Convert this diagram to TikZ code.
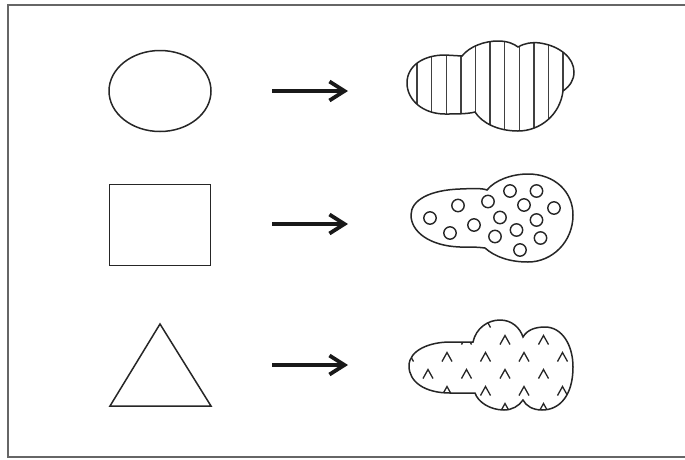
\documentclass[tikz,border=0pt]{standalone}
\usetikzlibrary{arrows.meta,shapes.geometric}
\tikzset{
  shapeline/.style={draw=black!85, line width=1.5pt},
  conv/.style={draw=black!90, line width=3.8pt, -{Straight Barb[length=15pt,width=19pt]}},
  stripe/.style={draw=black!75, line width=1.4pt},
  dotc/.style={draw=black!85, line width=1.4pt},
  caret/.style={draw=black!85, line width=1.3pt},
  frameline/.style={draw=black!60, line width=2pt}
}
\begin{document}
\begin{tikzpicture}[x=1pt,y=-1pt]
\clip (0,0) rectangle (685,459);
\fill[white] (0,0) rectangle (685,459);
\draw[frameline] (8,5) rectangle (700,457);

% left shapes
\node[shapeline, ellipse, minimum width=102pt, minimum height=81pt, inner sep=0pt] (circ) at (160,91) {};
\node[shapeline, rectangle, minimum width=101pt, minimum height=81pt, inner sep=0pt] (sq) at (160,225) {};
\coordinate (tA) at (160,324);
\coordinate (tB) at (211,406);
\coordinate (tC) at (110,406);
\draw[shapeline, line join=miter] (tA) -- (tB) -- (tC) -- cycle;

% arrows
\coordinate (a1s) at (272,91);  \coordinate (a1e) at (348,91);
\coordinate (a2s) at (272,224); \coordinate (a2e) at (348,224);
\coordinate (a3s) at (272,365); \coordinate (a3e) at (348,365);
\draw[conv] (a1s) -- (a1e);
\draw[conv] (a2s) -- (a2e);
\draw[conv] (a3s) -- (a3e);

% cloud 1 : striped
\def\cloudA{(407,83) .. controls (407,66) and (423,55) .. (445,55) -- (462,56)
  .. controls (470,46) and (485,41) .. (498,41) .. controls (508,41) and (514,44) .. (518,47)
  .. controls (525,43) and (532,42) .. (540,43) .. controls (560,46) and (574,58) .. (574,72)
  .. controls (574,80) and (570,86) .. (563,91)
  .. controls (560,115) and (540,131) .. (518,131) .. controls (498,131) and (482,123) .. (475,112)
  .. controls (468,114) and (455,114) .. (445,114) .. controls (423,114) and (407,100) .. (407,83) -- cycle}
\begin{scope}
  \clip \cloudA;
  \foreach \k in {0,...,10} {
    \draw[stripe] ({417+14.6*\k},30) -- ({417+14.6*\k},140);
  }
\end{scope}
\draw[shapeline] \cloudA;

% cloud 2 : dotted
\draw[shapeline] (411,215) .. controls (411,200) and (430,190) .. (460,189)
  .. controls (472,188.5) and (482,188) .. (487,190)
  .. controls (495,180) and (512,174) .. (528,174) .. controls (555,174) and (573,192) .. (573,215)
  .. controls (573,242) and (552,262) .. (528,262) .. controls (510,262) and (495,257) .. (485,248)
  .. controls (478,247) and (470,247) .. (460,247) .. controls (430,246) and (411,232) .. (411,215) -- cycle;
\foreach \px/\py in {430/218, 450/233, 458/205.5, 474/225, 488/201.5, 495/236.5,
  500/217.5, 510/191, 516.5/230, 524/205, 520/250, 536.5/191, 536.5/220, 540.5/238, 554/208} {
  \draw[dotc] (\px,\py) circle (6.2pt);
}

% cloud 3 : carets
\def\cloudC{(409,366) .. controls (409,350) and (430,342) .. (450,342) -- (473,342)
  .. controls (476,328) and (488,320) .. (500,320) .. controls (512,320) and (520,328) .. (523,337)
  .. controls (527,330) and (535,327) .. (545,327) .. controls (562,327) and (573,345) .. (573,367)
  .. controls (573,395) and (560,410) .. (542,410) .. controls (533,410) and (526,406) .. (523,400)
  .. controls (519,406) and (512,410) .. (504,410) .. controls (490,410) and (478,402) .. (475,393)
  -- (450,393) .. controls (425,393) and (409,382) .. (409,366) -- cycle}
\begin{scope}
  \clip \cloudC;
  \foreach \ry in {340,374,408} {
    \foreach \cx in {389.5,428,466.5,505,543.5,582} {
      \draw[caret] (\cx-5,\ry+4.5) -- (\cx,\ry-4.5) -- (\cx+5,\ry+4.5);
    }
  }
  \foreach \ry in {323,357,391} {
    \foreach \cx in {408.5,447,485.5,524,562.5} {
      \draw[caret] (\cx-5,\ry+4.5) -- (\cx,\ry-4.5) -- (\cx+5,\ry+4.5);
    }
  }
\end{scope}
\draw[shapeline] \cloudC;
\end{tikzpicture}
\end{document}
